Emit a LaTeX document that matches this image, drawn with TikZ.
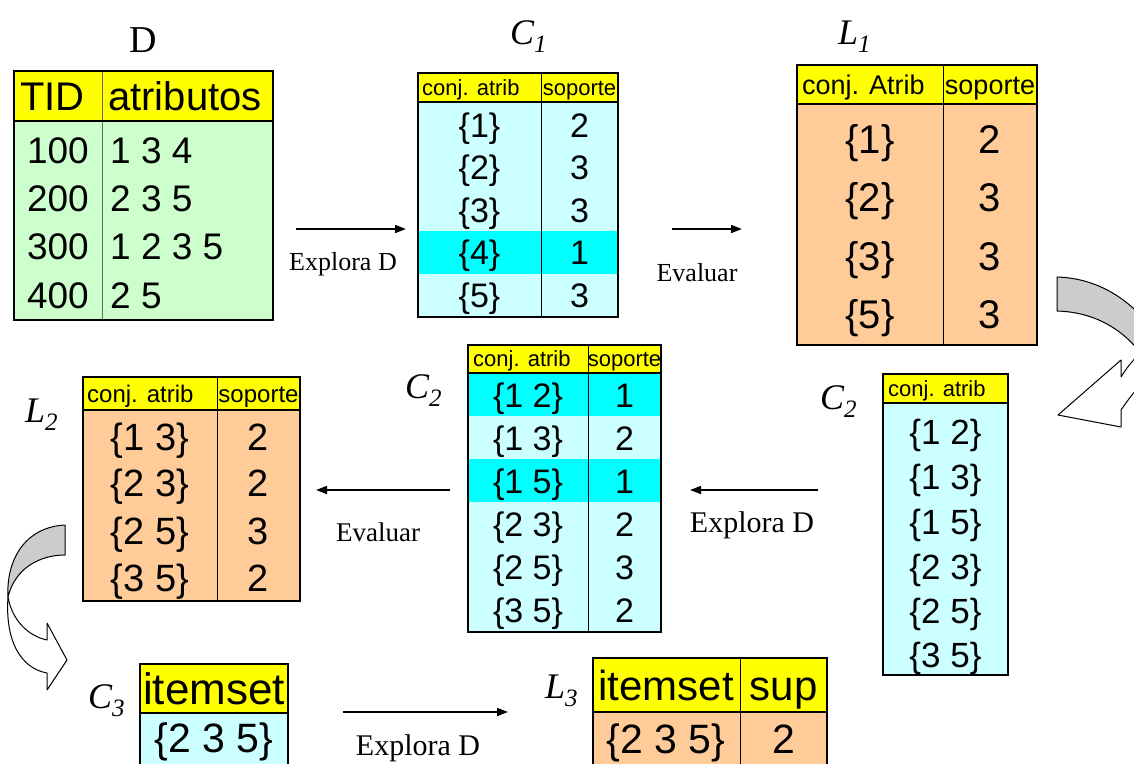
\documentclass[tikz,border=0pt]{standalone}
\usepackage{fontspec}
\setmainfont{Liberation Serif}
\newfontfamily\tabfont{Liberation Sans}
\usetikzlibrary{arrows.meta}
\newcommand\fsz[1]{\fontsize{#1pt}{#1pt}\selectfont}
\newcommand\ttl[2]{{\fsz{36}\itshape #1}{\fsz{25}\itshape\raisebox{-8pt}{#2}}}
\definecolor{tyellow}{HTML}{FFFF00}
\definecolor{tgreen}{HTML}{CCFFCC}
\definecolor{tcyanl}{HTML}{CCFFFF}
\definecolor{tcyan}{HTML}{00FFFF}
\definecolor{torange}{HTML}{FFCC99}
\definecolor{ribbon}{HTML}{CCCCCC}
\tikzset{
  tx/.style={inner sep=0pt, font=\tabfont\fsz{#1}, text height=#1*0.716pt, text depth=0pt},
  lbl/.style={inner sep=0pt, font=\fsz{#1}, text height=#1*0.662pt, text depth=0pt},
  frame/.style={draw=black, line width=1.6pt},
  hrule/.style={draw=black, line width=1.6pt},
  colrule/.style={draw=black, line width=0.9pt},
  flow/.style={line width=1.6pt, -{Triangle[length=11pt,width=8pt]}},
  ribbonedge/.style={draw=black, line width=1pt, line join=round}
}
\begin{document}
\begin{tikzpicture}[x=1pt,y=-1pt]
\path[use as bounding box] (0,0) rectangle (1134,763);
\begin{scope}
\clip (0,0) rectangle (1134,763);

% ---------- curved turn arrows ----------
% right side, L1 -> C2
\path[ribbonedge, fill=ribbon] (1057,277) -- (1057,311)
  .. controls (1090,312) and (1118,325) .. (1140,352) -- (1160,352) -- (1160,320)
  -- (1145,320) .. controls (1120,292) and (1090,278) .. (1057,277) -- cycle;
\path[ribbonedge, fill=white] (1150,345) .. controls (1140,352) and (1128,365) .. (1121,377)
  -- (1121,360) -- (1058,415) -- (1121,427) -- (1121,410)
  .. controls (1128,400) and (1138,385) .. (1150,378) -- cycle;
% left side, L2 -> C3
\path[ribbonedge, fill=ribbon] (65,525) -- (65,555)
  .. controls (40,555) and (15,568) .. (8,597)
  .. controls (6,560) and (25,527) .. (65,525) -- cycle;
\path[ribbonedge, fill=white] (8,597) .. controls (12,620) and (28,636) .. (47,640)
  -- (47,623) -- (67,660) -- (47,690) -- (47,673)
  .. controls (20,668) and (5,640) .. (8,597) -- cycle;

% ---------- D ----------
\node[lbl=38] (dttl) at (143,40) {D};
\fill[tgreen] (14,121) rectangle (273,320);
\fill[tyellow] (14,71) rectangle (273,121);
\draw[draw=black!60, line width=0.9pt] (102,71) -- (102,320);
\draw[hrule] (14,121) -- (273,121);
\draw[frame] (14,71) rectangle (273,320);
\node[tx=40, anchor=west] (dh1) at (20,96) {TID};
\node[tx=40, anchor=west] (dh2) at (108,96) {atributos};
\node[tx=37, anchor=east] (dr1a) at (89,150) {100};
\node[tx=37, anchor=west] (dr1b) at (110,150) {1 3 4};
\node[tx=37, anchor=east] (dr2a) at (89,198) {200};
\node[tx=37, anchor=west] (dr2b) at (110,198) {2 3 5};
\node[tx=37, anchor=east] (dr3a) at (89,246) {300};
\node[tx=37, anchor=west] (dr3b) at (110,246) {1 2 3 5};
\node[tx=37, anchor=east] (dr4a) at (89,295) {400};
\node[tx=37, anchor=west] (dr4b) at (110,295) {2 5};

% ---------- C1 ----------
\node[anchor=base west, inner sep=0pt] (c1ttl) at (510,44) {\ttl{C}{1}};
\fill[tcyanl] (418,102) rectangle (618,317);
\fill[tcyan] (418,231) rectangle (618,274);
\fill[tyellow] (418,73) rectangle (618,102);
\draw[colrule] (541,73) -- (541,317);
\draw[hrule] (418,102) -- (618,102);
\draw[frame] (418,73) rectangle (618,317);
\node[tx=22, anchor=west] (c1h1) at (422,88) {conj. atrib};
\node[tx=22] (c1h2) at (579.5,88) {soporte};
\foreach \y/\a/\b [count=\i] in {125/1/2,167/2/3,210/3/3,252/4/1,295/5/3}{
  \node[tx=34] (c1a\i) at (479.5,\y) {\{\a\}};
  \node[tx=34] (c1b\i) at (579.5,\y) {\b};
}

% ---------- L1 ----------
\node[anchor=base west, inner sep=0pt] (l1ttl) at (838,44) {\ttl{L}{1}};
\fill[torange] (797,104) rectangle (1037,345);
\fill[tyellow] (797,65) rectangle (1037,104);
\draw[colrule] (943,65) -- (943,345);
\draw[hrule] (797,104) -- (1037,104);
\draw[frame] (797,65) rectangle (1037,345);
\node[tx=27, anchor=west] (l1h1) at (802,85) {conj. Atrib};
\node[tx=27] (l1h2) at (990,85) {soporte};
\foreach \y/\a/\b [count=\i] in {139/1/2,197/2/3,256/3/3,314/5/3}{
  \node[tx=40] (l1a\i) at (870,\y) {\{\a\}};
  \node[tx=40] (l1b\i) at (990,\y) {\b};
}

% ---------- C2 (candidates, right) ----------
\node[anchor=base west, inner sep=0pt] (c2rttl) at (820,409) {\ttl{C}{2}};
\fill[tcyanl] (883,403) rectangle (1008,675);
\fill[tyellow] (883,374) rectangle (1008,403);
\draw[hrule] (883,403) -- (1008,403);
\draw[frame] (883,374) rectangle (1008,675);
\node[tx=22, anchor=west] (c2rh) at (888,389) {conj. atrib};
\foreach \y/\a [count=\i] in {432/1 2,477/1 3,522/1 5,567/2 3,611/2 5,655/3 5}{
  \node[tx=35] (c2r\i) at (945.5,\y) {\{\a\}};
}

% ---------- C2 (counted, middle) ----------
\node[anchor=base west, inner sep=0pt] (c2mttl) at (405,398) {\ttl{C}{2}};
\fill[tcyanl] (468,373) rectangle (661,632);
\fill[tcyan] (468,373) rectangle (661,416);
\fill[tcyan] (468,459) rectangle (661,502);
\fill[tyellow] (468,345) rectangle (661,373);
\draw[colrule] (588,345) -- (588,632);
\draw[hrule] (468,373) -- (661,373);
\draw[frame] (468,345) rectangle (661,632);
\node[tx=22, anchor=west] (c2mh1) at (473,359) {conj. atrib};
\node[tx=22] (c2mh2) at (624.5,359) {soporte};
\foreach \y/\a/\b [count=\i] in {395/1 2/1,438/1 3/2,481/1 5/1,524/2 3/2,567/2 5/3,610/3 5/2}{
  \node[tx=34] (c2ma\i) at (528,\y) {\{\a\}};
  \node[tx=34] (c2mb\i) at (624.5,\y) {\b};
}

% ---------- L2 ----------
\node[anchor=base west, inner sep=0pt] (l2ttl) at (25,422) {\ttl{L}{2}};
\fill[torange] (83,410) rectangle (300,601);
\fill[tyellow] (83,377) rectangle (300,410);
\draw[colrule] (217,377) -- (217,601);
\draw[hrule] (83,410) -- (300,410);
\draw[frame] (83,377) rectangle (300,601);
\node[tx=24, anchor=west] (l2h1) at (87,394) {conj. atrib};
\node[tx=24] (l2h2) at (258.5,394) {soporte};
\foreach \y/\a/\b [count=\i] in {437/1 3/2,483/2 3/2,531/2 5/3,578/3 5/2}{
  \node[tx=38] (l2a\i) at (150,\y) {\{\a\}};
  \node[tx=38] (l2b\i) at (258.5,\y) {\b};
}

% ---------- C3 ----------
\node[anchor=base west, inner sep=0pt] (c3ttl) at (88,708) {\ttl{C}{3}};
\fill[tcyanl] (140,713) rectangle (288,800);
\fill[tyellow] (140,664) rectangle (288,713);
\draw[hrule] (140,713) -- (288,713);
\draw[frame] (140,664) rectangle (288,800);
\node[tx=44] (c3h) at (214,689) {itemset};
\node[tx=41] (c3a) at (214,738) {\{2 3 5\}};

% ---------- L3 ----------
\node[anchor=base west, inner sep=0pt] (l3ttl) at (545,698) {\ttl{L}{3}};
\fill[torange] (593,712) rectangle (827,800);
\fill[tyellow] (593,658) rectangle (827,712);
\draw[colrule] (740,658) -- (740,800);
\draw[hrule] (593,712) -- (827,712);
\draw[frame] (593,658) rectangle (827,800);
\node[tx=42] (l3h1) at (666,685) {itemset};
\node[tx=42] (l3h2) at (783.5,685) {sup};
\node[tx=41] (l3a) at (666,739) {\{2 3 5\}};
\node[tx=41] (l3b) at (783.5,739) {2};

% ---------- steps ----------
\coordinate (s1a) at (296,229); \coordinate (s1b) at (406,229);
\draw[flow] (s1a) -- (s1b);
\node[lbl=26] (s1l) at (343,262) {Explora D};

\coordinate (s2a) at (672,229); \coordinate (s2b) at (742,229);
\draw[flow] (s2a) -- (s2b);
\node[lbl=26] (s2l) at (697,273) {Evaluar};

\coordinate (s3a) at (818,490); \coordinate (s3b) at (690,490);
\draw[flow] (s3a) -- (s3b);
\node[lbl=30] (s3l) at (752,523) {Explora D};

\coordinate (s4a) at (450,490); \coordinate (s4b) at (316,490);
\draw[flow] (s4a) -- (s4b);
\node[lbl=27] (s4l) at (378,533) {Evaluar};

\coordinate (s5a) at (343,712); \coordinate (s5b) at (508,712);
\draw[flow] (s5a) -- (s5b);
\node[lbl=30] (s5l) at (418,746) {Explora D};
\end{scope}
\end{tikzpicture}
\end{document}
